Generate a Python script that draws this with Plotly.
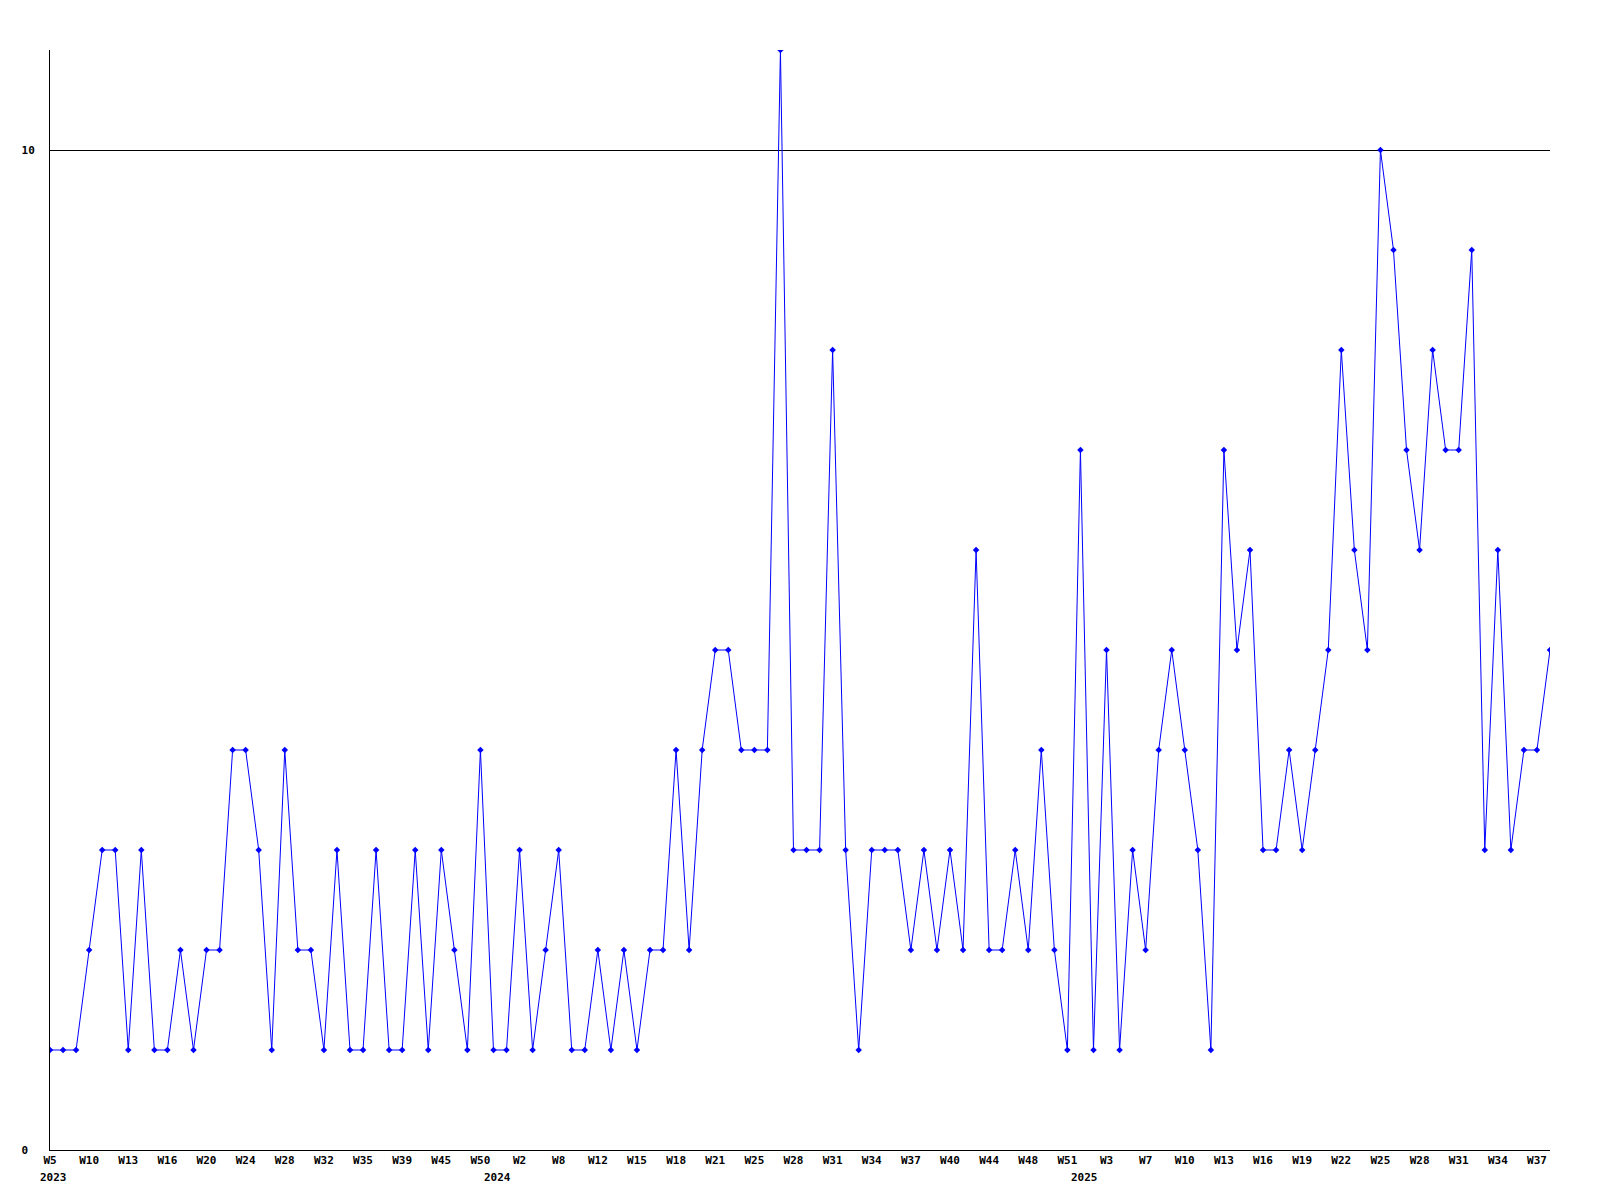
import plotly.graph_objects as go

years = [2023] * 35 + [2024] * 45 + [2025] * 36
week_numbers = [
    5, 6, 8, 10, 11, 12, 13, 14, 15, 16, 17, 19, 20, 21, 23, 24, 25, 27, 28, 29,
    31, 32, 33, 34, 35, 36, 38, 39, 41, 43, 45, 47, 48, 50, 51,
    1, 2, 4, 6, 8, 9, 10, 12, 13, 14, 15, 16, 17, 18, 19, 20, 21, 22, 24, 25,
    26, 27, 28, 29, 30, 31, 32, 33, 34, 35, 36, 37, 38, 39, 40, 41, 43, 44, 45,
    47, 48, 49, 50, 51, 52,
    2, 3, 4, 6, 7, 8, 9, 10, 11, 12, 13, 14, 15, 16, 17, 18, 19, 20, 21, 22,
    23, 24, 25, 26, 27, 28, 29, 30, 31, 32, 33, 34, 35, 36, 37, 38,
]
values = [
    1, 1, 1, 2, 3, 3, 1, 3, 1, 1, 2, 1, 2, 2, 4, 4, 3, 1, 4, 2,
    2, 1, 3, 1, 1, 3, 1, 1, 3, 1, 3, 2, 1, 4, 1, 1, 3, 1, 2, 3,
    1, 1, 2, 1, 2, 1, 2, 2, 4, 2, 4, 5, 5, 4, 4, 4, 11, 3, 3, 3,
    8, 3, 1, 3, 3, 3, 2, 3, 2, 3, 2, 6, 2, 2, 3, 2, 4, 2, 1, 7,
    1, 5, 1, 3, 2, 4, 5, 4, 3, 1, 7, 5, 6, 3, 3, 4, 3, 4, 5, 8,
    6, 5, 10, 9, 7, 6, 8, 7, 7, 9, 3, 6, 3, 4, 4, 5,
]
y_tick_values = [0, 10]
y_tick_labels = ["0\u00a0", "10"]

categories = [f"{y}-W{w:02d}" for y, w in zip(years, week_numbers)]
week_labels = [f"W{w}" for w in week_numbers]
tick_step = 3
tick_idx = list(range(0, len(categories), tick_step))

FONT = "DejaVu Sans Mono"
tick_font = dict(family=FONT, size=11, color="black", weight="bold")

fig = go.Figure()
fig.add_trace(go.Scatter(
    x=categories,
    y=values,
    mode="lines+markers",
    line=dict(color="#0000ff", width=1),
    marker=dict(symbol="diamond", size=5, color="#0000ff"),
    hoverinfo="x+y",
))

annotations = []
seen = set()
for i, yr in enumerate(years):
    if yr in seen:
        continue
    seen.add(yr)
    if i == 0:
        annotations.append(dict(x=i, y=0, xref="x", yref="paper", text=str(yr),
                                showarrow=False, xanchor="left", yanchor="middle",
                                xshift=-12, yshift=-27, font=tick_font))
    else:
        annotations.append(dict(x=i - 0.7, y=0, xref="x", yref="paper", text=str(yr),
                                showarrow=False, xanchor="center", yanchor="middle",
                                yshift=-27, font=tick_font))

fig.update_layout(
    width=1600,
    height=1200,
    margin=dict(l=50, r=50, t=50, b=50),
    paper_bgcolor="white",
    plot_bgcolor="white",
    showlegend=False,
    font=tick_font,
    annotations=annotations,
    xaxis=dict(
        type="category",
        range=[0, len(categories) - 1],
        tickmode="array",
        tickvals=[categories[i] for i in tick_idx],
        ticktext=[week_labels[i] for i in tick_idx],
        showgrid=False,
        zeroline=False,
        showline=True,
        linecolor="black",
        linewidth=1,
        ticks="",
        tickangle=0,
        tickfont=tick_font,
    ),
    yaxis=dict(
        range=[0, 11],
        tickmode="array",
        tickvals=y_tick_values,
        ticktext=y_tick_labels,
        showgrid=True,
        gridcolor="black",
        gridwidth=1,
        zeroline=False,
        showline=True,
        linecolor="black",
        linewidth=1,
        ticks="",
        ticklabelstandoff=12,
        tickfont=tick_font,
    ),
)

fig.write_html("out.html", config={"displayModeBar": False},
               post_script="document.body.style.margin='0';")
